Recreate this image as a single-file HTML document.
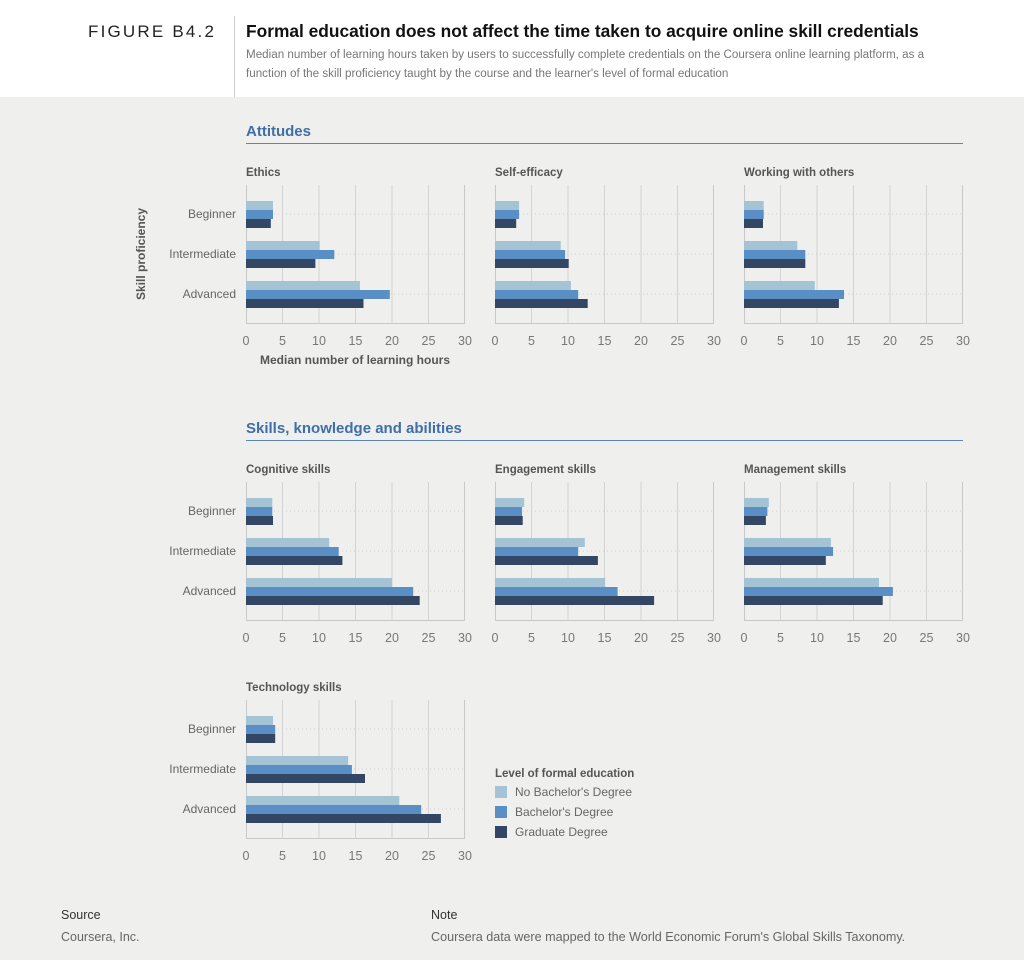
<!DOCTYPE html>
<html><head><meta charset="utf-8"><style>
html,body{margin:0;padding:0;width:1024px;height:960px;overflow:hidden;background:#efefee;font-family:"Liberation Sans",Arial,sans-serif}
svg text{font-family:"Liberation Sans",Arial,sans-serif}
.l{fill:#a4c3d4}.m{fill:#5a8fc5}.d{fill:#334765}
.t{font-size:12px;fill:#666}
.c{font-size:12px;fill:#666;text-anchor:end}
.x{font-size:12.5px;fill:#777;text-anchor:middle}
.pt{font-size:11.5px;font-weight:bold;fill:#555}
.sec{font-size:15px;font-weight:bold;fill:#3f6ea8}
</style></head><body>
<svg width="1024" height="960" xmlns="http://www.w3.org/2000/svg">
<defs>
<g id="fr">
<line x1="36.5" y1="0" x2="36.5" y2="138" stroke="#d3d3d3"/>
<line x1="73" y1="0" x2="73" y2="138" stroke="#d3d3d3"/>
<line x1="109.5" y1="0" x2="109.5" y2="138" stroke="#d3d3d3"/>
<line x1="146" y1="0" x2="146" y2="138" stroke="#d3d3d3"/>
<line x1="182.5" y1="0" x2="182.5" y2="138" stroke="#d3d3d3"/>
<line x1="0" y1="29" x2="219" y2="29" stroke="#cfcfcf" stroke-dasharray="1 3"/>
<line x1="0" y1="69" x2="219" y2="69" stroke="#cfcfcf" stroke-dasharray="1 3"/>
<line x1="0" y1="109" x2="219" y2="109" stroke="#cfcfcf" stroke-dasharray="1 3"/>
<path d="M0.5 0V138.5H218.5V0" fill="none" stroke="#c8c8c8"/>
</g>
</defs>
<rect x="0" y="0" width="1024" height="97" fill="#fff"/>
<line x1="234.5" y1="16" x2="234.5" y2="97" stroke="#ccc"/>
<text x="88" y="37" style="font-size:17px;letter-spacing:2.2px;fill:#222">FIGURE B4.2</text>
<text x="246" y="37" style="font-size:17.35px;font-weight:bold;fill:#111">Formal education does not affect the time taken to acquire online skill credentials</text>
<text x="246" y="58" style="font-size:11.65px;fill:#777">Median number of learning hours taken by users to successfully complete credentials on the Coursera online learning platform, as a</text>
<text x="246" y="77" style="font-size:11.65px;fill:#777">function of the skill proficiency taught by the course and the learner's level of formal education</text>

<text x="246" y="136" class="sec">Attitudes</text>
<line x1="246" y1="143.5" x2="963" y2="143.5" stroke="#5a86bb"/>
<text x="246" y="433" class="sec">Skills, knowledge and abilities</text>
<line x1="246" y1="440.5" x2="963" y2="440.5" stroke="#5a86bb"/>

<text transform="translate(145,254) rotate(-90)" style="font-size:12px;font-weight:bold;fill:#555;text-anchor:middle">Skill proficiency</text>

<!-- Ethics -->
<g transform="translate(246,185)">
<text x="0" y="-9" class="pt">Ethics</text>
<use href="#fr"/>
<rect class="l" x="0" y="16" width="27" height="9"/><rect class="m" x="0" y="25" width="27" height="9"/><rect class="d" x="0" y="34" width="24.8" height="9"/>
<rect class="l" x="0" y="56" width="73.7" height="9"/><rect class="m" x="0" y="65" width="88.3" height="9"/><rect class="d" x="0" y="74" width="69.4" height="9"/>
<rect class="l" x="0" y="96" width="113.9" height="9"/><rect class="m" x="0" y="105" width="143.8" height="9"/><rect class="d" x="0" y="114" width="117.5" height="9"/>
<text class="c" x="-10" y="33">Beginner</text><text class="c" x="-10" y="73">Intermediate</text><text class="c" x="-10" y="113">Advanced</text>
<text class="x" x="0" y="160">0</text><text class="x" x="36.5" y="160">5</text><text class="x" x="73" y="160">10</text><text class="x" x="109.5" y="160">15</text><text class="x" x="146" y="160">20</text><text class="x" x="182.5" y="160">25</text><text class="x" x="219" y="160">30</text>
<text x="14" y="179" class="pt" style="font-size:12px">Median number of learning hours</text>
</g>
<!-- Self-efficacy -->
<g transform="translate(495,185)">
<text x="0" y="-9" class="pt">Self-efficacy</text>
<use href="#fr"/>
<rect class="l" x="0" y="16" width="24.1" height="9"/><rect class="m" x="0" y="25" width="24.1" height="9"/><rect class="d" x="0" y="34" width="21.2" height="9"/>
<rect class="l" x="0" y="56" width="65.7" height="9"/><rect class="m" x="0" y="65" width="70.1" height="9"/><rect class="d" x="0" y="74" width="73.7" height="9"/>
<rect class="l" x="0" y="96" width="75.9" height="9"/><rect class="m" x="0" y="105" width="83.2" height="9"/><rect class="d" x="0" y="114" width="92.7" height="9"/>
<text class="x" x="0" y="160">0</text><text class="x" x="36.5" y="160">5</text><text class="x" x="73" y="160">10</text><text class="x" x="109.5" y="160">15</text><text class="x" x="146" y="160">20</text><text class="x" x="182.5" y="160">25</text><text class="x" x="219" y="160">30</text>
</g>
<!-- Working with others -->
<g transform="translate(744,185)">
<text x="0" y="-9" class="pt">Working with others</text>
<use href="#fr"/>
<rect class="l" x="0" y="16" width="19.7" height="9"/><rect class="m" x="0" y="25" width="19.7" height="9"/><rect class="d" x="0" y="34" width="19" height="9"/>
<rect class="l" x="0" y="56" width="53.3" height="9"/><rect class="m" x="0" y="65" width="61.3" height="9"/><rect class="d" x="0" y="74" width="61.3" height="9"/>
<rect class="l" x="0" y="96" width="70.8" height="9"/><rect class="m" x="0" y="105" width="100" height="9"/><rect class="d" x="0" y="114" width="94.9" height="9"/>
<text class="x" x="0" y="160">0</text><text class="x" x="36.5" y="160">5</text><text class="x" x="73" y="160">10</text><text class="x" x="109.5" y="160">15</text><text class="x" x="146" y="160">20</text><text class="x" x="182.5" y="160">25</text><text class="x" x="219" y="160">30</text>
</g>
<!-- Cognitive -->
<g transform="translate(246,482)">
<text x="0" y="-9" class="pt">Cognitive skills</text>
<use href="#fr"/>
<rect class="l" x="0" y="16" width="26.3" height="9"/><rect class="m" x="0" y="25" width="26.3" height="9"/><rect class="d" x="0" y="34" width="27" height="9"/>
<rect class="l" x="0" y="56" width="83.2" height="9"/><rect class="m" x="0" y="65" width="92.7" height="9"/><rect class="d" x="0" y="74" width="96.4" height="9"/>
<rect class="l" x="0" y="96" width="146" height="9"/><rect class="m" x="0" y="105" width="167.2" height="9"/><rect class="d" x="0" y="114" width="173.7" height="9"/>
<text class="c" x="-10" y="33">Beginner</text><text class="c" x="-10" y="73">Intermediate</text><text class="c" x="-10" y="113">Advanced</text>
<text class="x" x="0" y="160">0</text><text class="x" x="36.5" y="160">5</text><text class="x" x="73" y="160">10</text><text class="x" x="109.5" y="160">15</text><text class="x" x="146" y="160">20</text><text class="x" x="182.5" y="160">25</text><text class="x" x="219" y="160">30</text>
</g>
<!-- Engagement -->
<g transform="translate(495,482)">
<text x="0" y="-9" class="pt">Engagement skills</text>
<use href="#fr"/>
<rect class="l" x="0" y="16" width="29.2" height="9"/><rect class="m" x="0" y="25" width="27" height="9"/><rect class="d" x="0" y="34" width="27.7" height="9"/>
<rect class="l" x="0" y="56" width="89.8" height="9"/><rect class="m" x="0" y="65" width="83.2" height="9"/><rect class="d" x="0" y="74" width="102.9" height="9"/>
<rect class="l" x="0" y="96" width="110.2" height="9"/><rect class="m" x="0" y="105" width="122.6" height="9"/><rect class="d" x="0" y="114" width="159.1" height="9"/>
<text class="x" x="0" y="160">0</text><text class="x" x="36.5" y="160">5</text><text class="x" x="73" y="160">10</text><text class="x" x="109.5" y="160">15</text><text class="x" x="146" y="160">20</text><text class="x" x="182.5" y="160">25</text><text class="x" x="219" y="160">30</text>
</g>
<!-- Management -->
<g transform="translate(744,482)">
<text x="0" y="-9" class="pt">Management skills</text>
<use href="#fr"/>
<rect class="l" x="0" y="16" width="24.8" height="9"/><rect class="m" x="0" y="25" width="23.4" height="9"/><rect class="d" x="0" y="34" width="21.9" height="9"/>
<rect class="l" x="0" y="56" width="86.9" height="9"/><rect class="m" x="0" y="65" width="89.1" height="9"/><rect class="d" x="0" y="74" width="81.8" height="9"/>
<rect class="l" x="0" y="96" width="135" height="9"/><rect class="m" x="0" y="105" width="148.9" height="9"/><rect class="d" x="0" y="114" width="138.7" height="9"/>
<text class="x" x="0" y="160">0</text><text class="x" x="36.5" y="160">5</text><text class="x" x="73" y="160">10</text><text class="x" x="109.5" y="160">15</text><text class="x" x="146" y="160">20</text><text class="x" x="182.5" y="160">25</text><text class="x" x="219" y="160">30</text>
</g>
<!-- Technology -->
<g transform="translate(246,700)">
<text x="0" y="-9" class="pt">Technology skills</text>
<use href="#fr"/>
<rect class="l" x="0" y="16" width="27" height="9"/><rect class="m" x="0" y="25" width="29.2" height="9"/><rect class="d" x="0" y="34" width="29.2" height="9"/>
<rect class="l" x="0" y="56" width="102.2" height="9"/><rect class="m" x="0" y="65" width="105.9" height="9"/><rect class="d" x="0" y="74" width="119" height="9"/>
<rect class="l" x="0" y="96" width="153.3" height="9"/><rect class="m" x="0" y="105" width="175.2" height="9"/><rect class="d" x="0" y="114" width="194.9" height="9"/>
<text class="c" x="-10" y="33">Beginner</text><text class="c" x="-10" y="73">Intermediate</text><text class="c" x="-10" y="113">Advanced</text>
<text class="x" x="0" y="160">0</text><text class="x" x="36.5" y="160">5</text><text class="x" x="73" y="160">10</text><text class="x" x="109.5" y="160">15</text><text class="x" x="146" y="160">20</text><text class="x" x="182.5" y="160">25</text><text class="x" x="219" y="160">30</text>
</g>

<!-- Legend -->
<text x="495" y="777" class="pt">Level of formal education</text>
<rect class="l" x="495" y="786" width="12" height="12"/><text x="515" y="796" class="t">No Bachelor's Degree</text>
<rect class="m" x="495" y="806" width="12" height="12"/><text x="515" y="816" class="t">Bachelor's Degree</text>
<rect class="d" x="495" y="826" width="12" height="12"/><text x="515" y="836" class="t">Graduate Degree</text>

<!-- Footer -->
<text x="61" y="919" style="font-size:12.5px;fill:#333">Source</text>
<text x="61" y="941" style="font-size:12.5px;fill:#666">Coursera, Inc.</text>
<text x="431" y="919" style="font-size:12.5px;fill:#333">Note</text>
<text x="431" y="941" style="font-size:12.6px;fill:#666">Coursera data were mapped to the World Economic Forum's Global Skills Taxonomy.</text>
</svg>
</body></html>
